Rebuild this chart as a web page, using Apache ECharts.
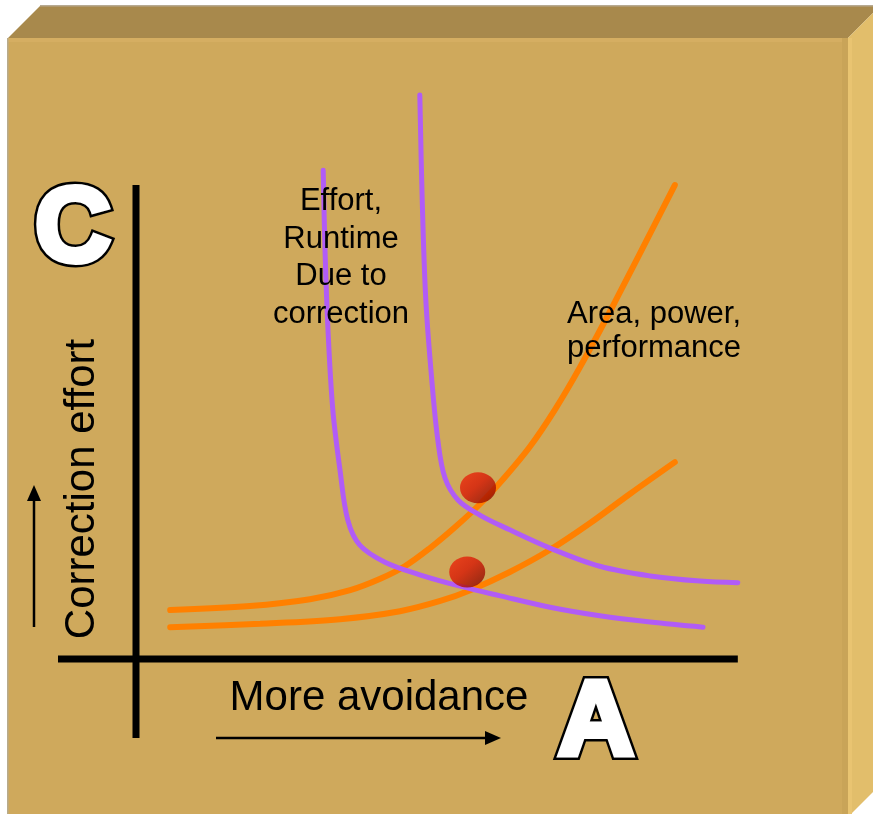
<!DOCTYPE html>
<html>
<head>
<meta charset="utf-8">
<style>
  html, body { margin: 0; padding: 0; background: #ffffff; }
  #chart { width: 873px; height: 814px; }
</style>
<script src="https://cdn.jsdelivr.net/npm/echarts@6/dist/echarts.min.js"></script>
</head>
<body>
<div id="chart"></div>
<script>
// Avoidance (x, 0-100) versus correction effort (y, 0-100).

// Purple: effort / runtime due to correction (two scenarios)
const correctionLow = [
  [31.2, 85.9], [31.5, 71.9], [32.0, 57.8], [32.8, 43.8], [34.0, 33.2],
  [35.3, 24.4], [37.3, 20.0], [41.5, 17.0], [47.3, 14.8], [54.0, 12.8],
  [60.7, 11.1], [69.0, 9.1], [77.3, 7.6], [85.7, 6.5], [94.5, 5.6]
];
const correctionHigh = [
  [47.3, 99.1], [47.7, 80.7], [48.3, 63.1], [49.3, 49.0], [50.3, 38.5],
  [51.5, 31.8], [53.7, 27.9], [57.3, 25.3], [62.3, 22.7], [69.0, 19.5],
  [77.3, 16.3], [85.7, 14.6], [94.0, 13.7], [100.3, 13.4]
];

// Orange: area, power, performance cost of avoidance (two scenarios)
const ppaSteep = [
  [5.7, 8.6], [19.0, 9.3], [29.0, 10.5], [35.7, 12.1], [40.7, 14.1],
  [44.8, 16.3], [49.0, 19.5], [53.2, 23.2], [57.3, 27.2], [61.5, 32.0],
  [65.7, 37.4], [69.8, 43.8], [74.0, 51.3], [79.8, 62.7], [89.8, 83.3]
];
const ppaGentle = [
  [5.7, 5.6], [20.7, 6.2], [34.0, 7.0], [44.0, 8.4], [50.7, 10.2],
  [55.7, 12.1], [62.3, 15.3], [69.0, 19.2], [75.7, 23.9], [82.3, 29.0],
  [89.8, 34.6]
];

// Sweet spots where the curves balance
const sweetSpots = [[57.0, 30.1], [55.2, 15.3]];

// Axis strokes, extending past the origin
const yAxisStroke = [[0, -13.9], [0, 83.3]];
const xAxisStroke = [[-13.0, 0], [100.3, 0]];

// Text
const effortLabel = 'Effort,\nRuntime\nDue to\ncorrection';
const ppaLabel = 'Area, power,\nperformance';
const yTitle = 'Correction effort';
const xTitle = 'More avoidance';
const cornerC = 'C';
const cornerA = 'A';

const FONT = '"Liberation Sans", Arial, Helvetica, sans-serif';
const HEAVY = '700 105px "Liberation Sans", Arial, sans-serif';
const PURPLE = '#b15cf6';
const ORANGE = '#ff8000';

const chart = echarts.init(document.getElementById('chart'), null, { renderer: 'canvas' });

function curve(name, data, color, width) {
  return {
    name, type: 'line', data, smooth: 0.35, showSymbol: false,
    lineStyle: { color, width, cap: 'round' }, z: 3, silent: true
  };
}
function stroke(data) {
  return {
    type: 'line', data, showSymbol: false, silent: true,
    lineStyle: { color: '#000', width: 7, cap: 'butt' }, z: 2
  };
}
// Heavy outlined letter: a thick black halo under a white, slightly fattened glyph
function outlinedLetter(text, x, y) {
  return [
    { type: 'text', z: 20, x, y,
      style: { text, fill: '#000', stroke: '#000', lineWidth: 11, lineJoin: 'round',
               font: HEAVY, align: 'center', verticalAlign: 'middle' } },
    { type: 'text', z: 21, x, y,
      style: { text, fill: '#ffffff', stroke: '#ffffff', lineWidth: 6, lineJoin: 'round',
               font: HEAVY, align: 'center', verticalAlign: 'middle' } }
  ];
}

const option = {
  animation: false,
  backgroundColor: '#ffffff',
  grid: { left: 58, top: 90, width: 680, height: 648 },
  xAxis: { type: 'value', min: -13, max: 100.33, show: false },
  yAxis: { type: 'value', min: -13.88, max: 100, show: false },
  series: [
    stroke(yAxisStroke),
    stroke(xAxisStroke),
    curve('ppaGentle', ppaGentle, ORANGE, 6),
    curve('ppaSteep', ppaSteep, ORANGE, 6),
    curve('correctionLow', correctionLow, PURPLE, 5),
    curve('correctionHigh', correctionHigh, PURPLE, 5),
    {
      type: 'scatter', data: sweetSpots, symbol: 'circle', symbolSize: [36, 31],
      z: 5, silent: true,
      itemStyle: {
        color: new echarts.graphic.LinearGradient(0, 0, 1, 1, [
          { offset: 0, color: '#f22a0c' },
          { offset: 0.45, color: '#d61805' },
          { offset: 1, color: '#7a0800' }
        ])
      }
    }
  ],
  graphic: [
    // box: front, top and side faces
    { type: 'polygon', z: -10, shape: { points: [[8, 38], [848, 38], [848, 814], [8, 814]] },
      style: { fill: '#cfa95c' } },
    { type: 'rect', z: -9, shape: { x: 8, y: 38, width: 840, height: 4 }, style: { fill: '#d5ae62' } },
    { type: 'rect', z: -9, shape: { x: 842, y: 38, width: 6, height: 776 }, style: { fill: '#c9a458' } },
    { type: 'rect', z: -9, shape: { x: 7, y: 38, width: 1.5, height: 776 }, style: { fill: '#b8ab8c' } },
    { type: 'polygon', z: -10, shape: { points: [[40, 6], [873, 6], [873, 13], [848, 38], [8, 38]] },
      style: { fill: '#a8894c' } },
    { type: 'rect', z: -9, shape: { x: 40, y: 5, width: 833, height: 1.5 }, style: { fill: '#b7aa92' } },
    { type: 'polygon', z: -10, shape: { points: [[848, 38], [873, 13], [873, 792], [851, 814], [848, 814]] },
      style: { fill: '#e2be6b' } },
    { type: 'rect', z: -9, shape: { x: 848, y: 38, width: 4, height: 776 }, style: { fill: '#e9c471' } },

    // direction arrows
    { type: 'line', z: 10, shape: { x1: 34, y1: 627, x2: 34, y2: 495 }, style: { stroke: '#000', lineWidth: 2.5 } },
    { type: 'polygon', z: 10, shape: { points: [[34, 485], [27, 501], [41, 501]] }, style: { fill: '#000' } },
    { type: 'line', z: 10, shape: { x1: 216, y1: 738, x2: 490, y2: 738 }, style: { stroke: '#000', lineWidth: 2.5 } },
    { type: 'polygon', z: 10, shape: { points: [[501, 738], [485, 731], [485, 745]] }, style: { fill: '#000' } },

    // labels
    { type: 'text', z: 20, x: 341, y: 258,
      style: { text: effortLabel, fill: '#000', font: '31px ' + FONT, lineHeight: 37.5,
               align: 'center', verticalAlign: 'middle' } },
    { type: 'text', z: 20, x: 654, y: 331,
      style: { text: ppaLabel, fill: '#000', font: '31px ' + FONT, lineHeight: 34,
               align: 'center', verticalAlign: 'middle' } },
    { type: 'text', z: 20, x: 82, y: 489, rotation: Math.PI / 2,
      style: { text: yTitle, fill: '#000', font: '42px ' + FONT,
               align: 'center', verticalAlign: 'middle' } },
    { type: 'text', z: 20, x: 379, y: 698,
      style: { text: xTitle, fill: '#000', font: '42px ' + FONT,
               align: 'center', verticalAlign: 'middle' } },
    ...outlinedLetter(cornerC, 73, 232),
    ...outlinedLetter(cornerA, 596, 726)
  ]
};
chart.setOption(option);
</script>
</body>
</html>
